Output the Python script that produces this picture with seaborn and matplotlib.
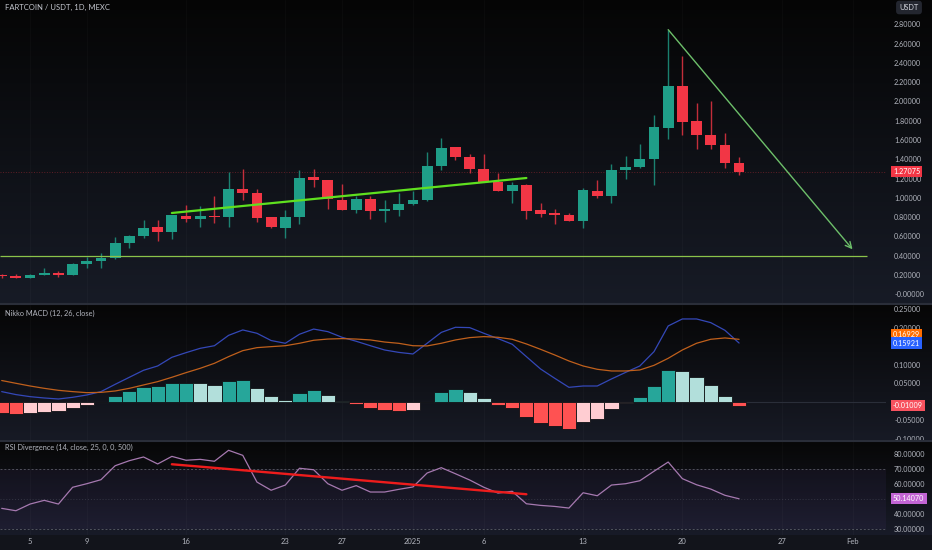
import numpy as np
import pandas as pd
import matplotlib
matplotlib.use("Agg")
import matplotlib.pyplot as plt
import seaborn as sns
from matplotlib.colors import LinearSegmentedColormap
from matplotlib.lines import Line2D

# daily candles FARTCOIN/USDT (MEXC)
dates = pd.date_range("2024-12-03", "2025-01-24", freq="D")

opens = [0.200, 0.190, 0.172, 0.203, 0.224, 0.197, 0.312, 0.340, 0.380, 0.535,
         0.604, 0.695, 0.649, 0.815, 0.784, 0.812, 0.800, 1.095, 1.054, 0.798,
         0.690, 0.798, 1.213, 1.185, 0.980, 0.874, 0.985, 0.860, 0.874, 0.936,
         0.975, 1.334, 1.524, 1.427, 1.302, 1.168, 1.074, 1.133, 0.871, 0.840,
         0.822, 0.757, 1.074, 1.020, 1.286, 1.320, 1.403, 1.728, 2.157, 1.797,
         1.649, 1.548, 1.365]
highs = [0.215, 0.205, 0.210, 0.272, 0.240, 0.320, 0.390, 0.425, 0.597, 0.610,
         0.770, 0.770, 0.825, 0.923, 0.915, 1.020, 1.265, 1.296, 1.089, 0.805,
         0.874, 1.289, 1.296, 1.190, 1.144, 1.020, 1.020, 0.978, 1.053, 1.074,
         1.473, 1.618, 1.530, 1.452, 1.455, 1.261, 1.161, 1.140, 0.944, 0.880,
         0.846, 1.100, 1.185, 1.348, 1.434, 1.559, 1.860, 2.741, 2.472, 1.987,
         2.005, 1.670, 1.427]
lows = [0.170, 0.165, 0.165, 0.198, 0.180, 0.195, 0.270, 0.275, 0.370, 0.477,
        0.585, 0.556, 0.570, 0.750, 0.700, 0.736, 0.700, 0.980, 0.753, 0.690,
        0.580, 0.729, 1.110, 0.880, 0.870, 0.840, 0.778, 0.753, 0.815, 0.930,
        0.970, 1.289, 1.393, 1.255, 1.160, 1.070, 0.944, 0.778, 0.798, 0.729,
        0.755, 0.684, 0.995, 0.950, 1.193, 1.310, 1.133, 1.607, 1.652, 1.504,
        1.504, 1.313, 1.240]
closes = [0.185, 0.172, 0.203, 0.220, 0.197, 0.314, 0.342, 0.380, 0.535, 0.604,
          0.690, 0.646, 0.819, 0.784, 0.812, 0.798, 1.095, 1.047, 0.794, 0.695,
          0.800, 1.209, 1.182, 0.985, 0.874, 0.985, 0.860, 0.880, 0.933, 0.980,
          1.334, 1.517, 1.420, 1.300, 1.168, 1.074, 1.130, 0.864, 0.833, 0.822,
          0.760, 1.078, 1.016, 1.286, 1.320, 1.406, 1.735, 2.157, 1.787, 1.649,
          1.545, 1.365, 1.27075]

# Nikko MACD (12, 26, close)
macd_line = [0.028, 0.020, 0.0144, 0.0108, 0.0081, 0.0126, 0.0189, 0.028, 0.0477, 0.0667,
             0.0856, 0.0973, 0.1207, 0.1333, 0.145, 0.152, 0.180, 0.1946, 0.1856, 0.166,
             0.1586, 0.183, 0.197, 0.190, 0.1748, 0.164, 0.152, 0.1405, 0.134, 0.1297,
             0.1586, 0.188, 0.2018, 0.2009, 0.1856, 0.1712, 0.156, 0.1225, 0.0892, 0.064,
             0.0396, 0.0432, 0.0432, 0.0622, 0.080, 0.0973, 0.136, 0.2054, 0.2243, 0.2243,
             0.2144, 0.1937, 0.15921]
signal_line = [0.058, 0.0505, 0.0432, 0.0369, 0.0315, 0.028, 0.0252, 0.026, 0.0297, 0.0369,
               0.046, 0.055, 0.0667, 0.0793, 0.091, 0.1045, 0.1225, 0.1387, 0.1468, 0.1495,
               0.152, 0.1586, 0.1667, 0.170, 0.1712, 0.170, 0.1676, 0.162, 0.1585, 0.152,
               0.1514, 0.1586, 0.1676, 0.1739, 0.1766, 0.1748, 0.1694, 0.1568, 0.1423, 0.127,
               0.1108, 0.0973, 0.0883, 0.0838, 0.0838, 0.0865, 0.099, 0.118, 0.1405, 0.1586,
               0.1694, 0.173, 0.16929]
hist = [-0.029, -0.033, -0.031, -0.026, -0.024, -0.015, -0.007, 0.001, 0.0153, 0.0288,
        0.0396, 0.0423, 0.0514, 0.0523, 0.0505, 0.045, 0.0568, 0.0586, 0.0378, 0.0153,
        0.0054, 0.0243, 0.0324, 0.0198, 0.0027, -0.0045, -0.0153, -0.0225, -0.024, -0.0225,
        0.001, 0.026, 0.0342, 0.026, 0.0108, -0.0081, -0.017, -0.041, -0.0568, -0.0649,
        -0.073, -0.055, -0.0469, -0.0198, -0.002, 0.0135, 0.0432, 0.0856, 0.0829, 0.0667,
        0.045, 0.0162, -0.01009]

# RSI (14)
rsi = [43.7, 42.1, 46.6, 49.1, 46.6, 57.9, 60.3, 63.0, 72.4, 75.8,
       78.3, 73.6, 78.7, 76.1, 76.7, 75.4, 82.8, 79.4, 61.4, 55.9,
       59.4, 70.7, 69.7, 60.3, 55.9, 59.0, 54.7, 54.7, 56.5, 58.1,
       67.5, 71.1, 67.0, 62.8, 57.9, 54.0, 55.2, 46.8, 45.7, 45.0,
       43.9, 54.2, 52.2, 59.4, 60.3, 62.3, 68.7, 74.9, 63.7, 59.6,
       56.7, 52.5, 50.1407]

tick_dates = ["2024-12-05", "2024-12-09", "2024-12-16", "2024-12-23", "2024-12-27",
              "2025-01-01", "2025-01-06", "2025-01-13", "2025-01-20", "2025-01-27",
              "2025-02-01"]
tick_labels = ["5", "9", "16", "23", "27", "2025", "6", "13", "20", "27", "Feb"]

price_ticks = [0.0, 0.2, 0.4, 0.6, 0.8, 1.0, 1.2, 1.4, 1.6, 1.8, 2.0, 2.2, 2.4, 2.6, 2.8]
price_tick_labels = ["-0.00000"] + [f"{t:.5f}" for t in price_ticks[1:]]
# labels that sit under the value boxes are left blank
macd_ticks = [-0.10, -0.05, 0.0, 0.05, 0.10, 0.15, 0.20, 0.25]
macd_tick_labels = ["-0.10000", "-0.05000", "", "0.05000", "0.10000", "", "0.20000", "0.25000"]
rsi_ticks = [30, 40, 50, 60, 70, 80]
rsi_tick_labels = ["30.00000", "40.00000", "", "60.00000", "70.00000", "80.00000"]

# hand drawn lines on the chart
trend_start, trend_end = ("2024-12-15", 0.843), ("2025-01-09", 1.206)
support_level, support_end = 0.395, "2025-02-02"
arrow_start, arrow_end = ("2025-01-19", 2.745), ("2025-02-01", 0.466)
div_start, div_end = ("2024-12-15", 73.4), ("2025-01-09", 53.2)


def pos(d):
    return (pd.Timestamp(d) - dates[0]).days


W, H = 932, 550
XLIM = (-0.12, 62.36)
UP, DOWN = "#1f9e88", "#f23645"
TXT = "#b2b5be"


def rect(x0, y0, x1, y1):
    return [x0 / W, 1 - y1 / H, (x1 - x0) / W, (y1 - y0) / H]


def gradient_bg(fig, r, top, bottom):
    bg = fig.add_axes(r)
    bg.axis("off")
    cmap = LinearSegmentedColormap.from_list("bg", [top, bottom])
    bg.imshow(np.linspace(0, 1, 256).reshape(-1, 1), aspect="auto", cmap=cmap,
              extent=[0, 1, 0, 1], origin="upper")
    return bg


def style_pane(ax, ticks, labels, ylim):
    ax.set_facecolor("none")
    ax.set_xlim(*XLIM)
    ax.set_ylim(*ylim)
    for s in ax.spines.values():
        s.set_visible(False)
    ax.yaxis.tick_right()
    ax.set_yticks(ticks)
    ax.set_yticklabels(labels)
    ax.tick_params(axis="y", length=0, pad=5.8, labelsize=5.2, colors=TXT)
    ax.set_xticks([pos(d) for d in tick_dates])
    ax.set_xticklabels(tick_labels)
    ax.tick_params(axis="x", length=0, labelbottom=False)
    ax.grid(False)
    ax.xaxis.grid(True, color="#ffffff", alpha=0.025, lw=0.8)
    ax.set_xlabel("")
    ax.set_ylabel("")


def value_box(ax, y, text, fc, tc="white"):
    ax.text(893 / 886, y, text, transform=ax.get_yaxis_transform(), ha="left",
            va="center", fontsize=5.2, color=tc, zorder=6,
            bbox=dict(boxstyle="square,pad=0.3", fc=fc, ec="none"))


sns.set_theme(style="dark")
plt.rcParams["font.family"] = ["Lato", "DejaVu Sans"]

fig = plt.figure(figsize=(W / 100, H / 100), dpi=100, facecolor="#12141b")
x = np.arange(len(dates))

# ---- price pane
gradient_bg(fig, rect(0, 0, W, 303), "#050505", "#171b26")
ax1 = fig.add_axes(rect(0, 0, 886, 303))
o, h, l, c = map(np.array, (opens, highs, lows, closes))
cols = [UP if cc >= oo else DOWN for oo, cc in zip(o, c)]
ax1.vlines(x, l, h, colors=cols, lw=1.0, alpha=0.8, zorder=2)
ax1.bar(x, np.maximum(np.abs(c - o), 0.012), bottom=np.minimum(o, c), width=0.76,
        color=cols, linewidth=0, zorder=3)
ax1.axhline(closes[-1], color=DOWN, ls=":", lw=0.7, alpha=0.35, zorder=1)
ax1.plot([pos(trend_start[0]), pos(trend_end[0])], [trend_start[1], trend_end[1]],
         color="#5fe01f", lw=1.6, zorder=4)
ax1.hlines(support_level, XLIM[0], pos(support_end), color="#8bc34a", lw=0.9, zorder=4)
ax1.annotate("", xy=(pos(arrow_end[0]), arrow_end[1]),
             xytext=(pos(arrow_start[0]), arrow_start[1]),
             arrowprops=dict(arrowstyle="->", color="#6dbf6a", lw=1.0,
                             mutation_scale=11, shrinkA=0, shrinkB=0), zorder=4)
style_pane(ax1, price_ticks, price_tick_labels, (-0.091, 3.053))
value_box(ax1, closes[-1], "1.27075", DOWN)

# ---- MACD pane
gradient_bg(fig, rect(0, 305, W, 440), "#060606", "#171a25")
ax2 = fig.add_axes(rect(0, 305, 886, 440))
hcols = []
prev = 0.0
for v in hist:
    if v >= 0:
        hcols.append("#26a69a" if v >= prev else "#b2dfdb")
    else:
        hcols.append("#ff5252" if v < prev else "#ffcdd2")
    prev = v
ax2.axhline(0, color="#2a2e39", lw=0.8, zorder=1)
ax2.bar(x, hist, width=1.0, color=hcols, edgecolor="#0f1114", linewidth=0.6, zorder=2)
sns.lineplot(x=x, y=macd_line, ax=ax2, color="#3448b8", linewidth=0.9, zorder=3)
sns.lineplot(x=x, y=signal_line, ax=ax2, color="#c0601c", linewidth=0.9, zorder=3)
style_pane(ax2, macd_ticks, macd_tick_labels, (-0.1027, 0.262))
value_box(ax2, 0.181, "0.16929", "#ff6d00")
value_box(ax2, macd_line[-1], "0.15921", "#2962ff")
value_box(ax2, hist[-1], "-0.01009", "#f7525f")

# ---- RSI pane
gradient_bg(fig, rect(0, 441, W, 535), "#070707", "#181b28")
ax3 = fig.add_axes(rect(0, 441, 886, 535))
ax3.axhspan(30, 70, color="#7e57c2", alpha=0.07, lw=0, zorder=0)
for lvl, ls, a in [(70, (0, (2, 2)), 0.6), (30, (0, (2, 2)), 0.6), (50, (0, (1, 2)), 0.3)]:
    ax3.axhline(lvl, color="#787b86", ls=ls, lw=0.7, alpha=a, zorder=1)
sns.lineplot(x=x, y=rsi, ax=ax3, color="#a679b0", linewidth=0.9, zorder=3)
ax3.plot([pos(div_start[0]), pos(div_end[0])], [div_start[1], div_end[1]],
         color="#ee1c1c", lw=1.7, zorder=4)
style_pane(ax3, rsi_ticks, rsi_tick_labels, (25.76, 89.06))
ax3.tick_params(axis="x", labelbottom=True, labelsize=5.5, colors=TXT, pad=2.5)
value_box(ax3, rsi[-1], "50.14070", "#c264d4")

# pane separators
for yy in (304, 440.5):
    fig.add_artist(Line2D([0, 1], [1 - yy / H] * 2, color="#2a2e39", lw=1.5))

fig.text(5 / W, 1 - 7 / H, "FARTCOIN / USDT, 1D, MEXC", fontsize=5.5, color="#c3c6ce",
         va="center", ha="left")
fig.text(5 / W, 1 - 313 / H, "Nikko MACD (12, 26, close)", fontsize=5.3, color=TXT,
         va="center", ha="left")
fig.text(5 / W, 1 - 447 / H, "RSI Divergence (14, close, 25, 0, 0, 500)", fontsize=5.3,
         color=TXT, va="center", ha="left")
fig.text(909 / W, 1 - 7.5 / H, "USDT", fontsize=5.3, color="#d1d4dc", va="center",
         ha="center", bbox=dict(boxstyle="round,pad=0.45", fc="#23262f", ec="none"))

fig.savefig("out.png", dpi=100, facecolor=fig.get_facecolor())
